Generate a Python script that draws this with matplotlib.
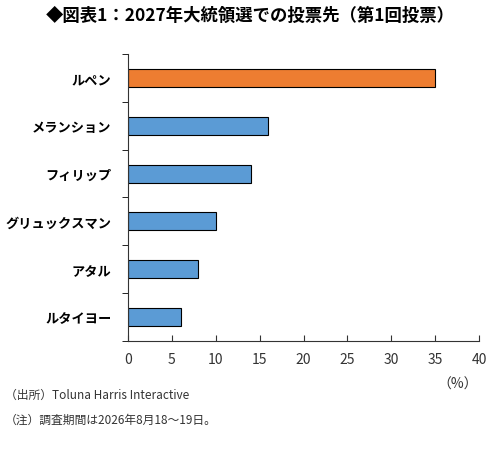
import matplotlib
matplotlib.use("Agg")
from matplotlib import pyplot as plt

plt.rcParams['font.family'] = ['Noto Sans CJK JP', 'DejaVu Sans']

candidates = ["ルペン", "メランション", "フィリップ", "グリュックスマン", "アタル", "ルタイヨー"]
values = [35, 16, 14, 10, 8, 6]
colors = ["#ED7D31"] + ["#5B9BD5"] * 5

figure = plt.figure(figsize=(5, 4.6), dpi=100)
axes = figure.add_axes([0.256, 0.257, 0.702, 0.623])

ys = list(range(len(candidates)))[::-1]
axes.barh(ys, values, height=0.38, color=colors, edgecolor="black", linewidth=0.8)

axes.set_xlim(0, 40)
axes.set_ylim(-0.5, len(candidates) - 0.5)
axes.set_xticks(range(0, 41, 5))
axes.tick_params(axis="x", direction="in", length=4, labelsize=10, pad=8, colors="#333333")
axes.set_yticks(ys)
axes.set_yticklabels(candidates, fontsize=9.5, fontweight="bold")
axes.tick_params(axis="y", length=0, pad=12)
axes.set_yticks([y + 0.5 for y in range(-1, len(candidates))], minor=True)
axes.tick_params(axis="y", which="minor", length=4, direction="out")
for side in ["top", "right"]:
    axes.spines[side].set_visible(False)
for side in ["left", "bottom"]:
    axes.spines[side].set_color("#333333")

figure.text(0.5, 0.965, "◆図表1：2027年大統領選での投票先（第1回投票）", ha="center", va="center",
            fontsize=12.5, fontweight="bold")
figure.text(0.955, 0.163, "（%）", ha="right", va="center", fontsize=10, color="#333333")
figure.text(0.01, 0.14, "（出所）Toluna Harris Interactive", fontsize=8.5, va="center", color="#333333")
figure.text(0.01, 0.087, "（注）調査期間は2026年8月18～19日。", fontsize=8.5, va="center", color="#333333")

figure.savefig("out.png")
